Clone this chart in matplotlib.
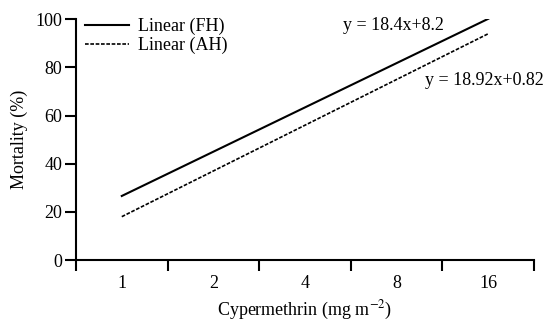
import numpy as np
import matplotlib.pyplot as plt

plt.rcParams['font.family'] = ['Liberation Serif', 'DejaVu Serif']
plt.rcParams['mathtext.fontset'] = 'stix'

doses = ['1', '2', '4', '8', '16']
fh = [26.6, 45.0, 63.4, 81.8, 100.2]
ah = [18.0, 37.0, 56.0, 75.0, 94.0]
eq_fh = 'y = 18.4x+8.2'
eq_ah = 'y = 18.92x+0.82'

fs = 13

fig = plt.figure(figsize=(5.45, 3.21), dpi=100)
ax = fig.add_axes([0.1394, 0.19, 0.8406, 0.75])

x = np.arange(len(doses))
ax.plot(x, fh, color='black', lw=1.5, label='Linear (FH)')
ax.plot(x, ah, color='black', lw=1.2, linestyle=(0, (2.2, 1.0)), label='Linear (AH)')

ax.set_xlim(-0.5, len(doses) - 0.5)
ax.set_ylim(0, 100)
ax.set_yticks([0, 20, 40, 60, 80, 100])
ax.set_xticks(x)
ax.set_xticklabels(doses)
ax.set_xticks(np.arange(len(doses) + 1) - 0.5, minor=True)
ax.tick_params(axis='x', which='major', length=0, pad=11, labelsize=fs)
ax.tick_params(axis='x', which='minor', length=8, width=1.5, direction='out')
ax.tick_params(axis='y', length=8, width=1.5, direction='out', labelsize=fs, pad=2)

for s in ['top', 'right']:
    ax.spines[s].set_visible(False)
for s in ['left', 'bottom']:
    ax.spines[s].set_linewidth(1.5)

ax.set_ylabel('Mortality (%)', fontsize=fs, labelpad=5)
ax.set_xlabel('Cypermethrin (mg m$^{-2}$)', fontsize=fs, labelpad=5)

ax.legend(loc='upper left', frameon=False, fontsize=fs, handlelength=2.4,
          handletextpad=0.5, borderaxespad=0.0, bbox_to_anchor=(0.005, 1.035),
          labelspacing=0.1)

ax.text(2.96, 97.5, eq_fh, fontsize=fs, ha='center', va='center')
ax.text(4.6, 74.5, eq_ah, fontsize=fs, ha='right', va='center')

fig.savefig('out.png', dpi=100)
